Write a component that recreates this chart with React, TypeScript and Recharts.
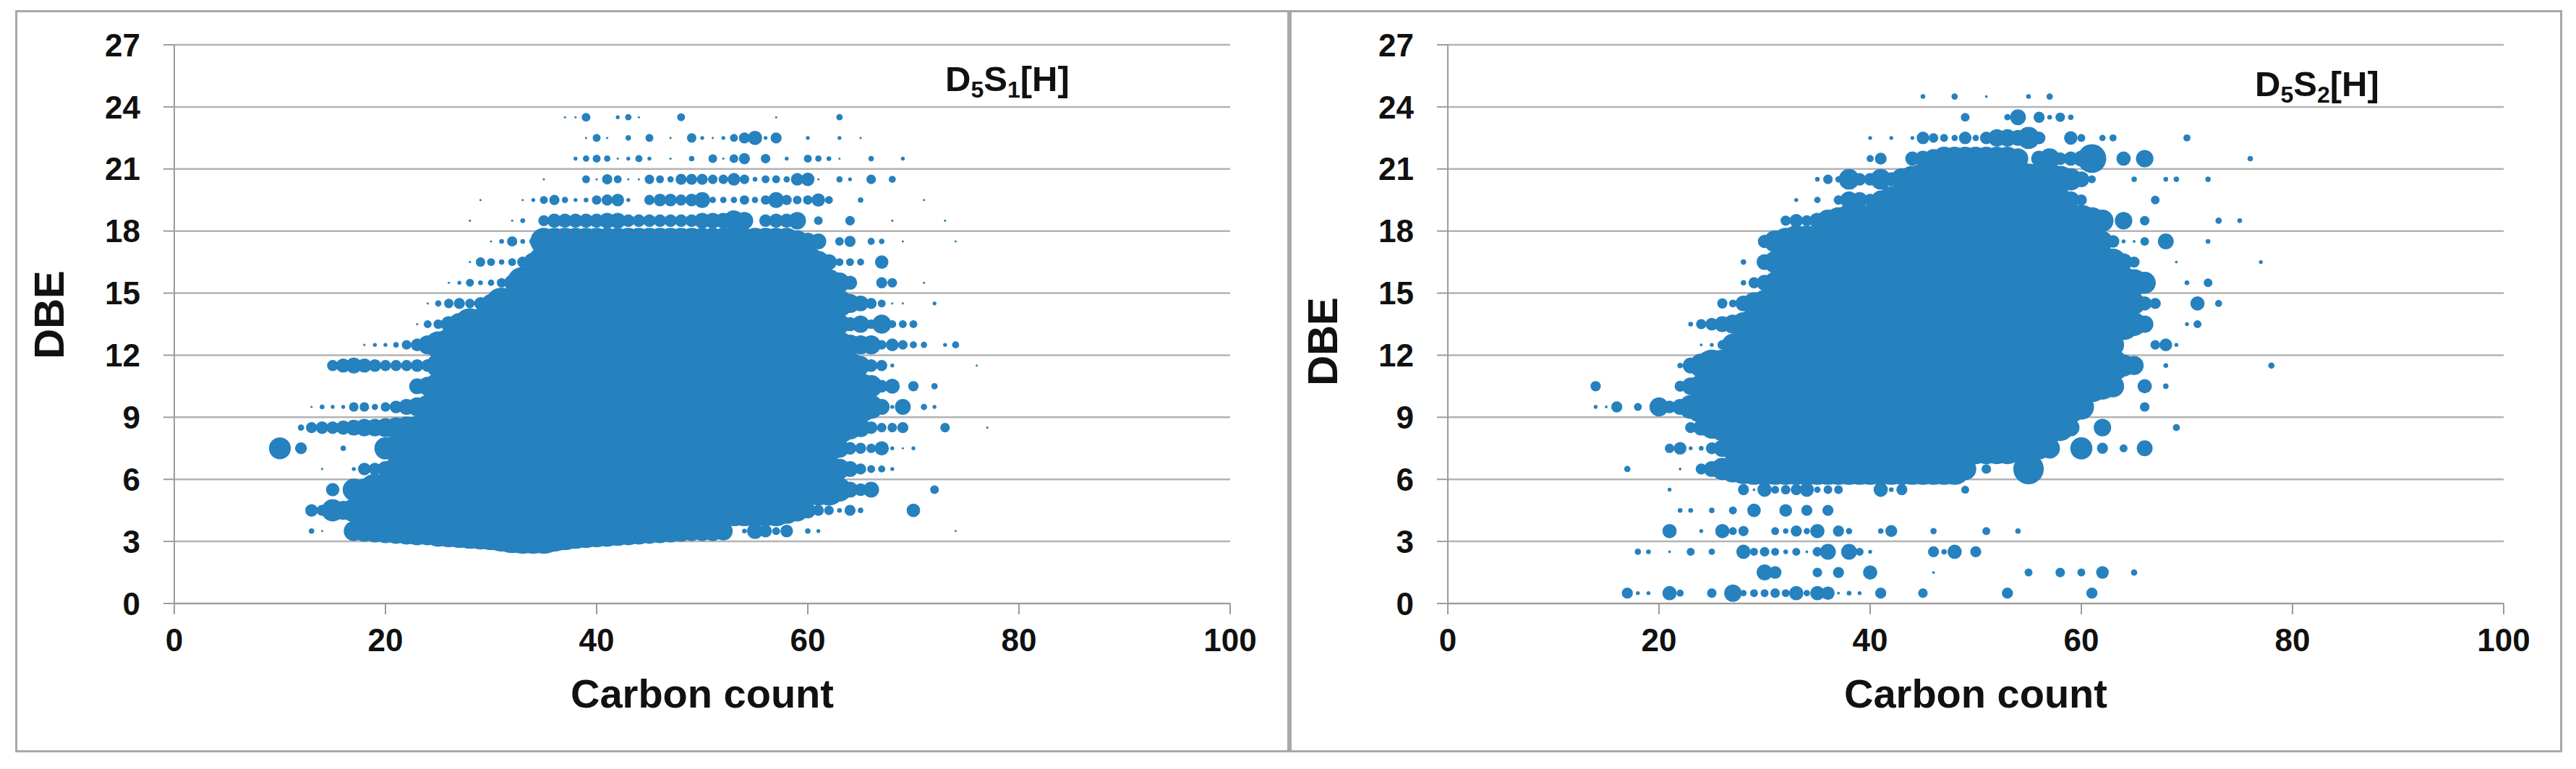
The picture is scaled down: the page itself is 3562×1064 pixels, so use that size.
import { CartesianGrid, Scatter, ScatterChart, XAxis, YAxis, ZAxis } from "recharts";

const carbonTicks = [0, 20, 40, 60, 80, 100];
const dbeTicks = [0, 3, 6, 9, 12, 15, 18, 21, 24, 27];

// each entry: DBE row, first carbon count, abundance per consecutive carbon (0 = no peak)
const s1Rows: [number, number, number[]][] = [
  [23.5, 37, [2, 2, 30, 0, 0, 6, 16, 2, 0, 0, 0, 25, 0, 0, 0, 0, 0, 0, 0, 0, 2, 0, 0, 0, 0, 0, 16]],
  [22.5, 39, [2, 25, 2, 0, 12, 0, 25, 0, 2, 0, 36, 6, 2, 6, 25, 49, 81, 6, 49, 0, 0, 6, 0, 0, 6, 0, 2]],
  [21.5, 38, [6, 16, 25, 16, 2, 6, 20, 6, 0, 2, 0, 12, 0, 30, 2, 30, 49, 0, 36, 0, 6, 0, 25, 16, 9, 2, 0, 0, 12, 0, 0, 6]],
  [20.5, 35, [2, 0, 0, 0, 25, 2, 42, 25, 2, 2, 36, 25, 16, 49, 49, 49, 36, 36, 64, 36, 9, 25, 25, 16, 64, 72, 2, 0, 16, 6, 0, 36, 0, 20]],
  [19.5, 29, [2, 0, 0, 0, 2, 6, 25, 42, 16, 6, 9, 36, 49, 64, 6, 0, 42, 64, 64, 49, 64, 100, 16, 16, 16, 36, 16, 36, 100, 42, 30, 36, 72, 25, 0, 0, 12, 0, 0, 0, 0, 0, 2]],
  [18.5, 28, [2, 0, 0, 0, 2, 9, 0, 49, 81, 81, 81, 81, 81, 100, 100, 64, 64, 64, 64, 64, 64, 64, 100, 100, 100, 169, 121, 0, 64, 81, 81, 121, 0, 30, 0, 0, 36, 0, 0, 0, 2, 0, 0, 0, 0, 2]],
  [17.5, 30, [2, 9, 42, 9, 25]],
  [17.5, 35, [289, 289, 289, 289, 289, 289, 289, 289, 289, 289, 289, 289, 289, 289, 289, 289, 289, 289, 289, 289, 289, 289, 289, 289]],
  [17.5, 59, [196, 121, 100, 0, 30, 49, 0, 20, 12, 0, 2, 0, 0, 0, 0, 2]],
  [16.5, 28, [2, 36, 25, 12, 25, 49, 144]],
  [16.5, 35, [400, 400, 400, 400, 400, 400, 400, 400, 400, 400, 400, 400, 400, 400, 400, 400, 400, 400, 400, 400, 400, 400, 400, 400, 400, 400]],
  [16.5, 61, [196, 100, 25, 25, 20, 0, 72]],
  [15.5, 26, [2, 6, 25, 9, 16, 36, 100]],
  [15.5, 33, [400, 400, 400, 400, 400, 400, 400, 400, 400, 400, 400, 400, 400, 400, 400, 400, 400, 400, 400, 400, 400, 400, 400, 400, 400, 400, 400, 400, 400]],
  [15.5, 62, [289, 169, 81, 0, 0, 49, 36, 0, 0, 2]],
  [14.5, 24, [2, 16, 36, 49, 36, 64, 144]],
  [14.5, 31, [400, 400, 400, 400, 400, 400, 400, 400, 400, 400, 400, 400, 400, 400, 400, 400, 400, 400, 400, 400, 400, 400, 400, 400, 400, 400, 400, 400, 400, 400, 400, 400]],
  [14.5, 63, [289, 144, 100, 49, 25, 2, 2, 0, 0, 6]],
  [13.5, 23, [2, 25, 36, 100, 196]],
  [13.5, 28, [400, 400, 400, 400, 400, 400, 400, 400, 400, 400, 400, 400, 400, 400, 400, 400, 400, 400, 400, 400, 400, 400, 400, 400, 400, 400, 400, 400, 400, 400, 400, 400, 400, 400, 400]],
  [13.5, 63, [169, 81, 121, 36, 144, 25, 25, 25]],
  [12.5, 18, [2, 6, 6, 12, 36, 64, 144, 289]],
  [12.5, 26, [400, 400, 400, 400, 400, 400, 400, 400, 400, 400, 400, 400, 400, 400, 400, 400, 400, 400, 400, 400, 400, 400, 400, 400, 400, 400, 400, 400, 400, 400, 400, 400, 400, 400, 400, 400, 400]],
  [12.5, 63, [289, 169, 144, 144, 36, 64, 36, 20, 16, 0, 6, 20]],
  [11.5, 15, [49, 81, 100, 81, 64, 49, 49, 49, 64, 64, 225]],
  [11.5, 26, [400, 400, 400, 400, 400, 400, 400, 400, 400, 400, 400, 400, 400, 400, 400, 400, 400, 400, 400, 400, 400, 400, 400, 400, 400, 400, 400, 400, 400, 400, 400, 400, 400, 400, 400, 400, 400, 400]],
  [11.5, 64, [289, 144, 64, 49, 6, 0, 0, 0, 0, 0, 0, 0, 2]],
  [10.5, 23, [100, 144, 289]],
  [10.5, 26, [400, 400, 400, 400, 400, 400, 400, 400, 400, 400, 400, 400, 400, 400, 400, 400, 400, 400, 400, 400, 400, 400, 400, 400, 400, 400, 400, 400, 400, 400, 400, 400, 400, 400, 400, 400, 400, 400, 400]],
  [10.5, 65, [289, 196, 64, 90, 0, 42, 0, 16]],
  [9.5, 13, [2, 9, 6, 6, 36, 36, 16, 36, 64, 100, 144, 225]],
  [9.5, 25, [400, 400, 400, 400, 400, 400, 400, 400, 400, 400, 400, 400, 400, 400, 400, 400, 400, 400, 400, 400, 400, 400, 400, 400, 400, 400, 400, 400, 400, 400, 400, 400, 400, 400, 400, 400, 400, 400, 400, 400, 400]],
  [9.5, 66, [225, 100, 6, 100, 0, 16, 6]],
  [8.5, 12, [16, 49, 64, 64, 81, 100, 121, 121, 144, 169, 196, 225, 289]],
  [8.5, 25, [400, 400, 400, 400, 400, 400, 400, 400, 400, 400, 400, 400, 400, 400, 400, 400, 400, 400, 400, 400, 400, 400, 400, 400, 400, 400, 400, 400, 400, 400, 400, 400, 400, 400, 400, 400, 400, 400, 400]],
  [8.5, 64, [225, 144, 64, 36, 36, 49, 0, 0, 0, 36, 0, 0, 0, 2]],
  [7.5, 10, [190, 0, 56, 0, 0, 0, 12, 0, 0, 0, 196, 289]],
  [7.5, 22, [400, 400, 400, 400, 400, 400, 400, 400, 400, 400, 400, 400, 400, 400, 400, 400, 400, 400, 400, 400, 400, 400, 400, 400, 400, 400, 400, 400, 400, 400, 400, 400, 400, 400, 400, 400, 400, 400, 400, 400]],
  [7.5, 62, [289, 144, 64, 49, 36, 81, 6, 2, 6]],
  [6.5, 14, [2, 0, 0, 6, 64, 64, 100, 225]],
  [6.5, 22, [400, 400, 400, 400, 400, 400, 400, 400, 400, 400, 400, 400, 400, 400, 400, 400, 400, 400, 400, 400, 400, 400, 400, 400, 400, 400, 400, 400, 400, 400, 400, 400, 400, 400, 400, 400, 400, 400, 400, 400]],
  [6.5, 62, [289, 169, 100, 49, 25, 20, 6]],
  [5.5, 15, [72, 0, 196, 196]],
  [5.5, 19, [400, 400, 400, 400, 400, 400, 400, 400, 400, 400, 400, 400, 400, 400, 400, 400, 400, 400, 400, 400, 400, 400, 400, 400, 400, 400, 400, 400, 400, 400, 400, 400, 400, 400, 400, 400, 400, 400, 400, 400, 400, 400, 400, 400]],
  [5.5, 63, [225, 100, 64, 100, 0, 0, 0, 0, 0, 30]],
  [4.5, 13, [64, 49, 196, 144, 225]],
  [4.5, 18, [400, 400, 400, 400, 400, 400, 400, 400, 400, 400, 400, 400, 400, 400, 400, 400, 400, 400, 400, 400, 400, 400, 400, 400, 400, 400, 400, 400, 400, 400, 400, 400, 400, 400, 400, 400, 400, 400, 400, 400]],
  [4.5, 58, [289, 196, 100, 49, 36, 9, 49, 12, 0, 0, 0, 0, 72]],
  [3.5, 13, [12, 2, 0, 0, 160, 180, 205, 230, 260, 290, 320, 320, 390, 420, 460, 500, 540, 580, 670, 770, 820, 820, 820, 670, 580, 500, 460, 420, 390, 350, 320, 290, 260, 230, 205, 180, 160, 160, 160, 140, 0, 9, 100, 64, 25, 64, 0, 12, 6, 0, 0, 0, 0, 0, 0, 0, 0, 0, 0, 0, 0, 2]],
];

const s2Rows: [number, number, number[]][] = [
  [24.5, 45, [9, 0, 0, 16, 0, 0, 3, 0, 0, 0, 9, 0, 16]],
  [23.5, 49, [30, 0, 0, 0, 16, 100, 0, 49, 9, 36, 12]],
  [22.5, 40, [6, 0, 6, 0, 6, 64, 36, 25, 16, 64, 16, 64, 121, 121, 100, 196, 64, 0, 0, 72, 25, 0, 16, 20, 0, 0, 0, 0, 0, 0, 20]],
  [21.5, 40, [20, 56, 0, 0, 81, 100, 144, 225, 225, 225, 225, 225, 225, 225, 169, 0, 100, 169, 64, 81, 100, 330, 0, 0, 81, 0, 121, 0, 0, 0, 0, 0, 0, 0, 0, 0, 12]],
  [20.5, 35, [9, 36, 16, 169, 64, 64, 169, 81, 196, 289]],
  [20.5, 45, [400, 400, 400, 400, 400, 400, 400, 400, 400, 400, 400, 400, 400]],
  [20.5, 58, [289, 196, 100, 25, 0, 0, 0, 12, 0, 0, 9, 12, 0, 0, 12]],
  [19.5, 33, [6, 0, 16, 0, 36, 121, 100, 64, 144, 289]],
  [19.5, 43, [400, 400, 400, 400, 400, 400, 400, 400, 400, 400, 400, 400, 400, 400]],
  [19.5, 57, [289, 225, 121, 49, 0, 0, 0, 0, 0, 0, 30]],
  [18.5, 32, [42, 72, 49, 100, 196, 289]],
  [18.5, 38, [400, 400, 400, 400, 400, 400, 400, 400, 400, 400, 400, 400, 400, 400, 400, 400, 400, 400, 400, 400, 400, 400, 400]],
  [18.5, 61, [289, 196, 0, 121, 0, 36, 0, 0, 0, 0, 0, 0, 16, 0, 9]],
  [17.5, 30, [72, 196, 289]],
  [17.5, 33, [400, 400, 400, 400, 400, 400, 400, 400, 400, 400, 400, 400, 400, 400, 400, 400, 400, 400, 400, 400, 400, 400, 400, 400, 400, 400, 400, 400]],
  [17.5, 61, [289, 169, 64, 6, 3, 30, 0, 100, 0, 0, 0, 9]],
  [16.5, 28, [12, 0, 100, 196, 289]],
  [16.5, 33, [400, 400, 400, 400, 400, 400, 400, 400, 400, 400, 400, 400, 400, 400, 400, 400, 400, 400, 400, 400, 400, 400, 400, 400, 400, 400, 400, 400, 400, 400]],
  [16.5, 63, [289, 121, 49, 0, 0, 0, 3, 0, 0, 0, 0, 0, 0, 0, 6]],
  [15.5, 28, [12, 49, 100, 196]],
  [15.5, 32, [400, 400, 400, 400, 400, 400, 400, 400, 400, 400, 400, 400, 400, 400, 400, 400, 400, 400, 400, 400, 400, 400, 400, 400, 400, 400, 400, 400, 400, 400, 400, 400, 400]],
  [15.5, 65, [289, 196, 0, 0, 0, 9, 0, 30]],
  [14.5, 26, [42, 25, 100, 196, 289]],
  [14.5, 31, [400, 400, 400, 400, 400, 400, 400, 400, 400, 400, 400, 400, 400, 400, 400, 400, 400, 400, 400, 400, 400, 400, 400, 400, 400, 400, 400, 400, 400, 400, 400, 400, 400, 400]],
  [14.5, 65, [196, 81, 49, 0, 0, 0, 81, 0, 20]],
  [13.5, 23, [9, 42, 64, 100, 144, 225]],
  [13.5, 29, [400, 400, 400, 400, 400, 400, 400, 400, 400, 400, 400, 400, 400, 400, 400, 400, 400, 400, 400, 400, 400, 400, 400, 400, 400, 400, 400, 400, 400, 400, 400, 400, 400, 400, 400, 400]],
  [13.5, 65, [225, 121, 0, 0, 0, 6, 25]],
  [12.5, 24, [3, 6, 36, 196]],
  [12.5, 28, [400, 400, 400, 400, 400, 400, 400, 400, 400, 400, 400, 400, 400, 400, 400, 400, 400, 400, 400, 400, 400, 400, 400, 400, 400, 400, 400, 400, 400, 400, 400, 400, 400, 400]],
  [12.5, 62, [289, 196, 0, 0, 0, 36, 64, 6]],
  [11.5, 22, [12, 100, 225]],
  [11.5, 25, [400, 400, 400, 400, 400, 400, 400, 400, 400, 400, 400, 400, 400, 400, 400, 400, 400, 400, 400, 400, 400, 400, 400, 400, 400, 400, 400, 400, 400, 400, 400, 400, 400, 400, 400, 400, 400, 400, 400]],
  [11.5, 64, [196, 144, 0, 0, 9, 0, 0, 0, 0, 0, 0, 0, 0, 0, 16]],
  [10.5, 14, [42, 0, 0, 0, 0, 0, 0, 0, 49, 121, 225]],
  [10.5, 25, [400, 400, 400, 400, 400, 400, 400, 400, 400, 400, 400, 400, 400, 400, 400, 400, 400, 400, 400, 400, 400, 400, 400, 400, 400, 400, 400, 400, 400, 400, 400, 400, 400, 400, 400, 400, 400]],
  [10.5, 62, [289, 196, 0, 0, 81, 0, 12]],
  [9.5, 14, [6, 3, 49, 0, 25, 0, 144, 64, 100, 225]],
  [9.5, 24, [400, 400, 400, 400, 400, 400, 400, 400, 400, 400, 400, 400, 400, 400, 400, 400, 400, 400, 400, 400, 400, 400, 400, 400, 400, 400, 400, 400, 400, 400, 400, 400, 400, 400, 400, 400]],
  [9.5, 60, [256, 0, 0, 0, 0, 0, 36]],
  [8.5, 23, [49, 100, 196, 289]],
  [8.5, 27, [400, 400, 400, 400, 400, 400, 400, 400, 400, 400, 400, 400, 400, 400, 400, 400, 400, 400, 400, 400, 400, 400, 400, 400, 400, 400, 400, 400, 400, 400, 400]],
  [8.5, 58, [289, 121, 0, 0, 121, 0, 0, 0, 0, 0, 0, 20]],
  [7.5, 21, [36, 64, 6, 9, 56, 121, 225]],
  [7.5, 28, [400, 400, 400, 400, 400, 400, 400, 400, 400, 400, 400, 400, 400, 400, 400, 400, 400, 400, 400, 400, 400, 400, 400, 400, 400, 400]],
  [7.5, 54, [225, 100, 196, 169, 0, 0, 196, 0, 49, 0, 25, 0, 100]],
  [6.5, 17, [16, 0, 0, 0, 0, 3, 0, 49, 100, 196, 289, 361]],
  [6.5, 29, [400, 400, 400, 400, 400, 400, 400, 400, 400, 400, 400, 400, 400, 400, 400, 400, 400, 400, 400, 400]],
  [6.5, 49, [196, 0, 36, 0, 0, 0, 370]],
  [5.5, 21, [6, 0, 0, 0, 0, 0, 0, 49, 3, 81, 25, 36, 49, 81, 16, 30, 30, 0, 0, 0, 81, 9, 49, 0, 0, 0, 0, 0, 25]],
  [4.5, 22, [9, 9, 0, 12, 0, 25, 0, 72, 0, 0, 64, 0, 49, 0, 49]],
  [3.5, 21, [81, 0, 0, 6, 0, 81, 25, 42, 0, 0, 25, 12, 49, 16, 81, 0, 49, 16, 0, 0, 12, 56, 0, 0, 0, 16, 0, 0, 0, 0, 25, 0, 0, 12]],
  [2.5, 18, [16, 9, 0, 3, 0, 25, 0, 16, 0, 0, 81, 25, 36, 25, 9, 25, 3, 36, 100, 0, 100, 25, 6, 0, 0, 0, 0, 0, 49, 12, 81, 0, 49]],
  [1.5, 30, [100, 64, 0, 0, 0, 36, 0, 49, 0, 0, 81, 0, 0, 0, 0, 0, 3, 0, 0, 0, 0, 0, 0, 0, 0, 25, 0, 0, 36, 0, 25, 0, 64, 0, 0, 16]],
  [0.5, 17, [49, 6, 6, 0, 81, 20, 0, 0, 36, 0, 121, 16, 25, 25, 36, 25, 81, 16, 81, 72, 3, 9, 6, 0, 49, 0, 0, 0, 36, 0, 0, 0, 0, 0, 0, 0, 49, 0, 0, 0, 0, 0, 0, 0, 49]],
];

const FONT = "'Liberation Sans', Arial, sans-serif";
const GRID = "#b3b3b3";
const AXIS = "#9c9c9c";
const BLUE = "#2681bf";

function toPoints(rows: [number, number, number[]][]) {
  const pts: { carbon: number; dbe: number; abundance: number }[] = [];
  rows.forEach(([dbe, first, sizes]) => {
    sizes.forEach((abundance, i) => {
      if (abundance > 0) pts.push({ carbon: first + i, dbe, abundance });
    });
  });
  return pts;
}

function Panel({ rows, left, sulfur, tagX, tagY, dbeShift }: any) {
  const tick = { fontFamily: FONT, fontSize: 44, fontWeight: 700, fill: "#111" };
  return (
    <div style={{ position: "absolute", left, top: 15 }}>
      <ScatterChart width={1760} height={1025} margin={{ top: 47, right: 81, bottom: 20, left: 0 }}>
        <CartesianGrid horizontal vertical={false} stroke={GRID} strokeWidth={2.5} />
        <XAxis
          type="number"
          dataKey="carbon"
          domain={[0, 100]}
          ticks={carbonTicks}
          height={185}
          interval={0}
          tick={tick}
          tickSize={15}
          tickMargin={20}
          stroke={AXIS}
          strokeWidth={2}
          label={{
            value: "Carbon count",
            position: "insideBottom",
            offset: 41,
            style: { fontFamily: FONT, fontSize: 56, fontWeight: 700, fill: "#111" },
          }}
        />
        <YAxis
          type="number"
          dataKey="dbe"
          domain={[0, 27]}
          ticks={dbeTicks}
          width={219}
          interval={0}
          tick={tick}
          tickSize={15}
          tickMargin={32}
          stroke={AXIS}
          strokeWidth={2}
          label={{
            value: "DBE",
            angle: -90,
            position: "insideLeft",
            offset: 45,
            dy: dbeShift,
            style: { textAnchor: "middle", fontFamily: FONT, fontSize: 58, fontWeight: 700, fill: "#111" },
          }}
        />
        <ZAxis type="number" dataKey="abundance" domain={[0, 1100]} range={[0, 4150]} />
        <Scatter data={toPoints(rows)} fill={BLUE} isAnimationActive={false} />
        <text x={tagX} y={tagY} fontFamily={FONT} fontSize={49} fontWeight={700} fill="#111">
          <tspan>D</tspan>
          <tspan fontSize={32} dy={9}>5</tspan>
          <tspan dy={-9}>S</tspan>
          <tspan fontSize={32} dy={9}>{sulfur}</tspan>
          <tspan dy={-9}>[H]</tspan>
        </text>
      </ScatterChart>
    </div>
  );
}

export default function App() {
  return (
    <div style={{ position: "absolute", left: 0, top: 0, width: 3562, height: 1064, background: "#fff", overflow: "hidden" }}>
      <div style={{ position: "absolute", left: 21, top: 14, width: 3516, height: 1021, border: "3px solid #a8a8a8" }} />
      <div style={{ position: "absolute", left: 1780, top: 14, width: 6, height: 1027, background: "#a8a8a8" }} />
      <Panel rows={s1Rows} left={22} sulfur="1" tagX={1285} tagY={111} dbeShift={-13} />
      <Panel rows={s2Rows} left={1783} sulfur="2" tagX={1335} tagY={118} dbeShift={24} />
    </div>
  );
}
